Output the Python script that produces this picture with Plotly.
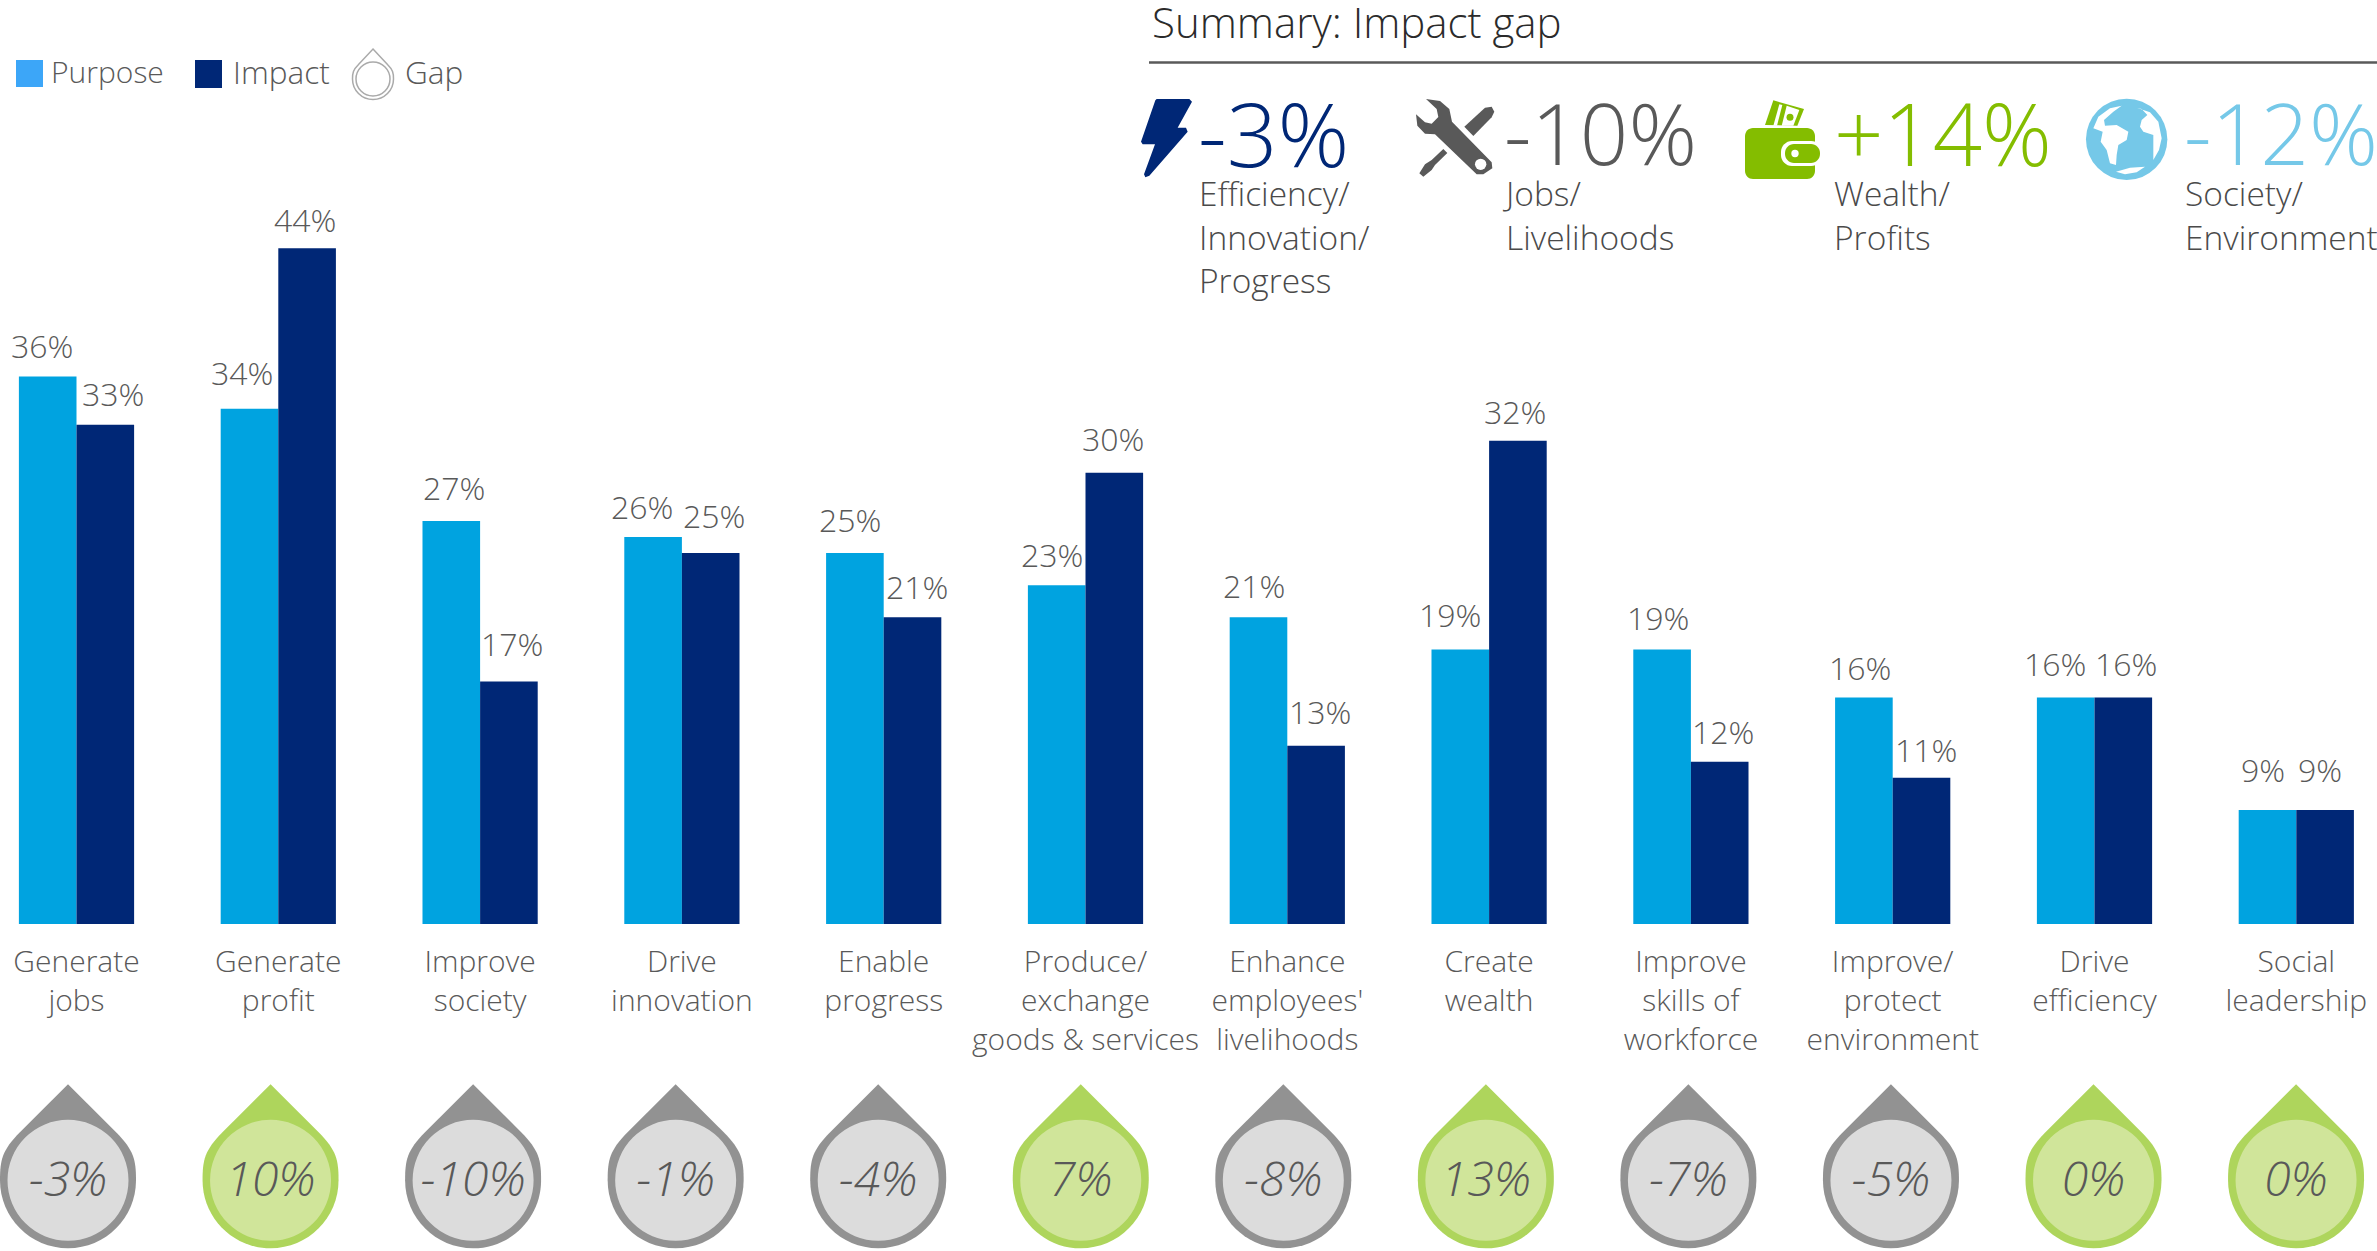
import plotly.graph_objects as go

W, H = 2377, 1251
FONT = "Open Sans"

categories = ["Generate<br>jobs", "Generate<br>profit", "Improve<br>society", "Drive<br>innovation",
              "Enable<br>progress", "Produce/<br>exchange<br>goods &amp; services", "Enhance<br>employees'<br>livelihoods",
              "Create<br>wealth", "Improve<br>skills of<br>workforce", "Improve/<br>protect<br>environment",
              "Drive<br>efficiency", "Social<br>leadership"]
purpose = [36, 34, 27, 26, 25, 23, 21, 19, 19, 16, 16, 9]
impact = [33, 44, 17, 25, 21, 30, 13, 32, 12, 11, 16, 9]
gap = [-3, 10, -10, -1, -4, 7, -8, 13, -7, -5, 0, 0]

summary_values = ["-3%", "-10%", "+14%", "-12%"]
summary_labels = ["Efficiency/<br>Innovation/<br>Progress", "Jobs/<br>Livelihoods", "Wealth/<br>Profits", "Society/<br>Environment"]

# label nudges in pixels, relative to the centre of each bar
purpose_nudge = [-6, -8, 3, -11, -5, -5, -5, -10, -4, -4, -11, -5]
impact_nudge = [8, -2, 3, 3, 4, -1, 4, -3, 3, 4, 3, -5]
purpose_lift = [3, 8, 5, 2, 5, 2, 3, 6, 3, 2, 6, 12]
impact_lift = [3, 0, 9, 9, 2, 6, 6, 1, 2, 0, 6, 12]

BLUE, NAVY = "#00a3e0", "#002776"
TEXT = "#595959"
GREEN_O, GREEN_I = "#aed55c", "#d0e59a"
GRAY_O, GRAY_I = "#929292", "#dcdcdc"

K = 0.5523


def drop_path(r, tip):
    # teardrop centred on its anchor; y grows upward in pixel-sized shapes
    t = r * 0.7071
    c = 0.2652 * r
    return (f"M 0 {tip} L {t} {t} "
            f"C {t+c} {t-c} {r} {0.2929*r} {r} 0 "
            f"C {r} {-K*r} {K*r} {-r} 0 {-r} "
            f"C {-K*r} {-r} {-r} {-K*r} {-r} 0 "
            f"C {-r} {0.2929*r} {-t-c} {t-c} {-t} {t} Z")


def px_path(points, ox=0, oy=0, scale=1 / 3):
    """Zoomed-reference points to a paper-space polygon path."""
    out = []
    for i, (x, y) in enumerate(points):
        out.append(f"{'M' if i == 0 else 'L'} {(ox + x*scale)/W:.5f} {1-(oy + y*scale)/H:.5f}")
    return " ".join(out) + " Z"


def paper_circle(cx, cy, r):
    return dict(type="circle", xref="paper", yref="paper",
                x0=(cx-r)/W, x1=(cx+r)/W, y0=1-(cy+r)/H, y1=1-(cy-r)/H)


def paper_shape(path, color):
    return dict(type="path", xref="paper", yref="paper", path=path, fillcolor=color, line_width=0)


def round_rect(x0, y0, x1, y1, r):
    f = lambda x, y: f"{x/W:.5f} {1-y/H:.5f}"
    c = r * (1 - K)
    return (f"M {f(x0+r,y0)} L {f(x1-r,y0)} C {f(x1-c,y0)} {f(x1,y0+c)} {f(x1,y0+r)} "
            f"L {f(x1,y1-r)} C {f(x1,y1-c)} {f(x1-c,y1)} {f(x1-r,y1)} "
            f"L {f(x0+r,y1)} C {f(x0+c,y1)} {f(x0,y1-c)} {f(x0,y1-r)} "
            f"L {f(x0,y0+r)} C {f(x0,y0+c)} {f(x0+c,y0)} {f(x0+r,y0)} Z")


fig = go.Figure()
fig.add_bar(x=categories, y=purpose, name="Purpose", marker_color=BLUE, marker_line_width=0)
fig.add_bar(x=categories, y=impact, name="Impact", marker_color=NAVY, marker_line_width=0)
fig.add_scatter(x=categories, y=[-4] * len(gap), xaxis="x2", yaxis="y2", mode="text", name="Gap",
                text=[f"{g}%" for g in gap], textposition="middle center",
                textfont=dict(family=FONT, size=48, color=TEXT, style="italic", weight=300))

shapes, ann = [], []

# gap drops, anchored on the category axis of the lower row
for c, g in zip(categories, gap):
    o, i = (GREEN_O, GREEN_I) if g >= 0 else (GRAY_O, GRAY_I)
    shapes.append(dict(type="path", xref="x2", yref="y2", xsizemode="pixel", ysizemode="pixel",
                       xanchor=c, yanchor=0, path=drop_path(68, 96), fillcolor=o, line_width=0, layer="below"))
    shapes.append(dict(type="circle", xref="x2", yref="y2", xsizemode="pixel", ysizemode="pixel",
                       xanchor=c, yanchor=0, x0=-60.5, x1=60.5, y0=-60.5, y1=60.5,
                       fillcolor=i, line_width=0, layer="below"))


def text(x, y, s, size, color=TEXT, anchor="left", yanchor="middle", align="left", **kw):
    ann.append(dict(x=x / W, y=1 - y / H, xref="paper", yref="paper", text=s, showarrow=False,
                    xanchor=anchor, yanchor=yanchor, align=align, borderpad=0, borderwidth=0,
                    font=dict(family=FONT, size=size, color=color, weight=300), **kw))


# bar value labels
for c, v, n, l in zip(categories, purpose, purpose_nudge, purpose_lift):
    ann.append(dict(x=c, y=v, xref="x", yref="y", text=f"{v}%", showarrow=False, yanchor="bottom", xanchor="center",
                    xshift=-28.8 + n, yshift=5 + l, font=dict(family=FONT, size=32, color=TEXT, weight=300)))
for c, v, n, l in zip(categories, impact, impact_nudge, impact_lift):
    ann.append(dict(x=c, y=v, xref="x", yref="y", text=f"{v}%", showarrow=False, yanchor="bottom", xanchor="center",
                    xshift=28.8 + n, yshift=5 + l, font=dict(family=FONT, size=32, color=TEXT, weight=300)))

# legend
shapes.append(dict(type="rect", xref="paper", yref="paper", x0=16/W, x1=43/W, y0=1-87/H, y1=1-60/H,
                   fillcolor="#3ca6f8", line_width=0))
shapes.append(dict(type="rect", xref="paper", yref="paper", x0=195/W, x1=222/W, y0=1-88/H, y1=1-60/H,
                   fillcolor=NAVY, line_width=0))
shapes.append(dict(type="path", xref="paper", yref="paper", xsizemode="pixel", ysizemode="pixel",
                   xanchor=373/W, yanchor=1-79/H, path=drop_path(20.5, 30), fillcolor="white",
                   line=dict(color="#aaaaaa", width=1.5)))
shapes.append(dict(paper_circle(373, 79, 17), fillcolor="white", line=dict(color="#aaaaaa", width=1.5)))
text(51, 71.5, "Purpose", 30)
text(233, 71.5, "Impact", 31.5)
text(405, 71.5, "Gap", 31.5)

# summary panel
text(1152, 21, "Summary: Impact gap", 42, color="#2b2b2b")
shapes.append(dict(type="line", xref="paper", yref="paper", x0=1149/W, x1=1, y0=1-62.5/H, y1=1-62.5/H,
                   line=dict(color="#5a5a5a", width=2.5)))
summary_colors = [NAVY, "#595959", "#84bd00", "#75c8e8"]
value_x = [1198, 1504, 1834, 2184]
value_size = [89, 85, 86.5, 85.5]
label_x = [1197, 1500, 1832, 2183]
for vx, lx, v, l, col, vs in zip(value_x, label_x, summary_values, summary_labels, summary_colors, value_size):
    text(vx, 132, v, vs, color=col)
    ann.append(dict(x=lx / W, y=1 - 168 / H, xref="paper", yref="paper", text=l, showarrow=False,
                    xanchor="left", yanchor="top", align="left",
                    font=dict(family=FONT, size=33.5, color="#4a4a4a", weight=300)))

# bolt icon
shapes.append(paper_shape(px_path([(80, 42), (178, 42), (186, 50), (143, 128), (168, 128), (173, 140), (58, 272),
                                   (46, 277), (42, 268), (75, 178), (38, 178), (33, 170), (76, 46)], 1130, 85), NAVY))
# tools icon
GR = "#595959"
shapes.append(paper_shape(px_path([(888, 42), (930, 48), (958, 72), (966, 110), (1085, 232), (1087, 250), (1060, 268),
                                   (1040, 268), (915, 148), (885, 146), (862, 122), (858, 88), (885, 112), (905, 116),
                                   (925, 96), (920, 72)], 1130, 85), GR))
shapes.append(dict(paper_circle(1130 + 1052/3, 85 + 238/3, 5.7), fillcolor="white", line_width=0))
shapes.append(paper_shape(px_path([(1003, 125), (1065, 68), (1085, 65), (1093, 80), (1085, 97), (1030, 153)], 1130, 85), GR))
shapes.append(paper_shape(px_path([(940, 192), (952, 204), (915, 240), (905, 255), (880, 275), (868, 265), (885, 238), (905, 225)], 1130, 85), GR))
# wallet icon
G = "#84bd00"
shapes.append(paper_shape(px_path([(105, 120), (130, 46), (222, 72), (202, 122)], 1730, 85), G))
shapes.append(paper_shape(px_path([(130, 122), (148, 58), (157, 60), (141, 122)], 1730, 85), "white"))
shapes.append(paper_shape(px_path([(155, 122), (170, 62), (208, 75), (190, 122)], 1730, 85), "white"))
shapes.append(dict(paper_circle(1730 + 180/3, 85 + 97/3, 3.5), fillcolor=G, line_width=0))
shapes.append(paper_shape(round_rect(1745, 128, 1815, 179, 8), G))
shapes.append(paper_shape(round_rect(1781, 141, 1822, 166, 11), "white"))
shapes.append(paper_shape(round_rect(1785, 144, 1820, 163, 9), G))
shapes.append(dict(paper_circle(1795, 153.5, 3.7), fillcolor="white", line_width=0))
# globe icon
B = "#75c8e8"
shapes.append(dict(paper_circle(2060 + 200/3, 85 + 163/3, 40.7), fillcolor=B, line_width=0))
shapes.append(paper_shape(px_path([(100, 130), (115, 95), (150, 70), (185, 62), (160, 80), (132, 105), (135, 122), (170, 120),
                                   (205, 140), (200, 165), (175, 180), (170, 210), (168, 240), (150, 235), (140, 195),
                                   (122, 170), (128, 140)], 2060, 85), "white"))
shapes.append(paper_shape(px_path([(230, 68), (245, 72), (262, 90), (245, 105), (240, 125), (250, 140), (280, 150),
                                   (280, 190), (280, 225), (297, 195), (305, 160), (295, 110), (270, 82)], 2060, 85), "white"))
shapes.append(paper_shape(px_path([(168, 260), (210, 248), (255, 245), (230, 262), (195, 268)], 2060, 85), "white"))

# pixel geometry of the two category rows
s1, c1 = 201.8, 76.5
s2, c2 = 202.55, 68.0
base_px, unit_px, base_val = 924.0, 16.05, 1.89
row_top, row_mid = 1060.0, 1180.3

fig.update_layout(
    width=W, height=H, margin=dict(l=0, r=0, t=0, b=0, pad=0, autoexpand=False),
    paper_bgcolor="white", plot_bgcolor="rgba(0,0,0,0)", showlegend=False,
    barmode="group", bargap=0.429, bargroupgap=0,
    font=dict(family=FONT, color=TEXT),
    shapes=shapes, annotations=ann,
    xaxis=dict(domain=[0, 1], type="category", categoryorder="array", categoryarray=categories,
               range=[-c1 / s1, (W - c1) / s1], showgrid=False, zeroline=False, showline=False,
               ticks="", ticklen=0, ticklabelstandoff=17,
               tickfont=dict(family=FONT, size=30, color=TEXT, weight=300), automargin=False),
    yaxis=dict(domain=[1 - base_px / H, 1], range=[base_val, base_val + base_px / unit_px],
               visible=False),
    xaxis2=dict(domain=[0, 1], anchor="y2", type="category", categoryorder="array", categoryarray=categories,
                range=[-c2 / s2, (W - c2) / s2], visible=False),
    yaxis2=dict(domain=[0, (H - row_top) / H], anchor="x2", range=[row_mid - H, row_mid - row_top], visible=False),
)

fig.write_html("out.html", config={"displayModeBar": False},
               post_script="document.body.style.margin='0';document.body.style.overflow='hidden';")
